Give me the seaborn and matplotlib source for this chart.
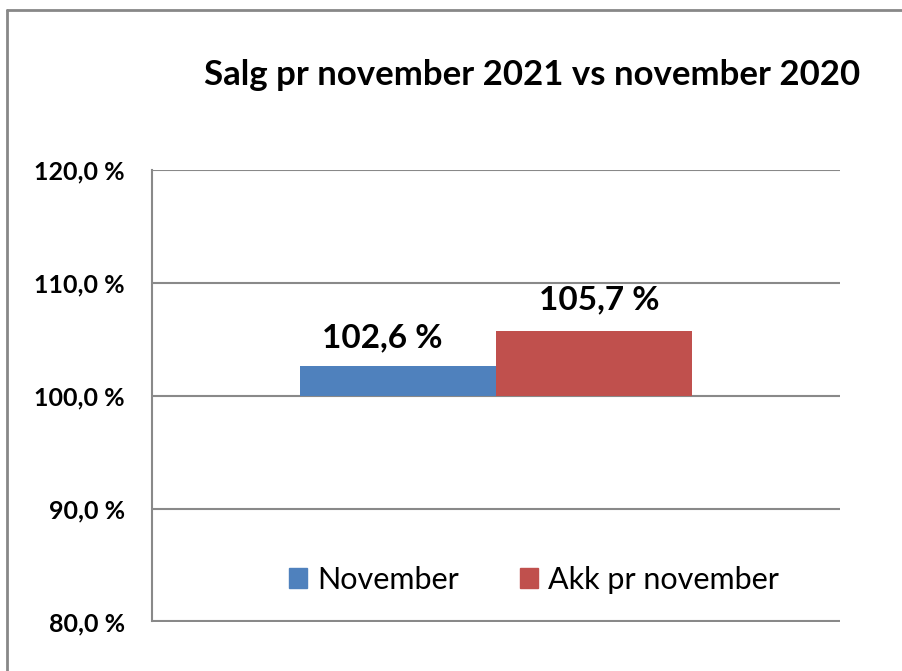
import matplotlib
matplotlib.use("Agg")
import matplotlib.pyplot as plt
import seaborn as sns
import pandas as pd
from matplotlib.lines import Line2D

# Data
categories = ["Salg"]
series = ["November", "Akk pr november"]
values = [102.6, 105.7]
colors = ["#4F81BD", "#C0504D"]
yticks = [80, 90, 100, 110, 120]
title = "Salg pr november 2021 vs november 2020"
baseline = 100.0

sns.set_theme(style="white")
plt.rcParams['font.family'] = ['Lato', 'DejaVu Sans']
plt.rcParams['text.color'] = 'black'
plt.rcParams['ytick.color'] = 'black'

df = pd.DataFrame({
    "cat": categories * len(series),
    "series": series,
    "value": values,
})
df["height"] = df["value"] - baseline

fig = plt.figure(figsize=(9.03, 6.71), dpi=100)
ax = fig.add_axes([152/903, 1-621.5/671, (840-152)/903, (621.5-170)/671])

sns.barplot(data=df, x="cat", y="height", hue="series", palette=colors,
            width=0.571, ax=ax, bottom=baseline, legend=False, saturation=1,
            linewidth=0)

ax.set_xlim(-0.5, 0.5)
ax.set_ylim(80, 120)
ax.set_yticks(yticks)
ax.set_yticklabels([f"{v:.1f}".replace(".", ",") + " %" for v in yticks],
                   fontsize=18, fontweight="bold", color="black")
ax.set_xticks([])
ax.set_xlabel("")
ax.set_ylabel("")
ax.tick_params(axis="y", length=0, pad=19.5)
ax.grid(False)
for y in yticks:
    ax.axhline(y, color="#898989", lw=1.5, zorder=0)
for s in ["top", "right", "bottom"]:
    ax.spines[s].set_visible(False)
ax.spines["left"].set_color("#898989")
ax.spines["left"].set_linewidth(1.5)

# data labels
label_dx = [-11, 3.6]
label_dy = [10, 12]
for patch, v, dx, dy in zip(ax.patches, values, label_dx, label_dy):
    cx = patch.get_x() + patch.get_width() / 2
    top = patch.get_y() + patch.get_height()
    ax.annotate(f"{v:.1f}".replace(".", ",") + " %", (cx, top),
                xytext=(dx, dy), textcoords="offset points",
                ha="center", va="bottom", fontsize=24, fontweight="bold",
                color="black")

# legend
handles = [plt.Rectangle((0, 0), 1, 1, color=c) for c in colors]
leg = ax.legend(handles, series, loc="center", bbox_to_anchor=(0.555, 0.092),
                ncol=2, frameon=False, fontsize=22, handlelength=0.6,
                handleheight=0.6, handletextpad=0.33, columnspacing=2.0)
for t in leg.get_texts():
    t.set_color("black")

fig.text(532/903, 1-75/671, title, ha="center", va="center",
         fontsize=25, fontweight="bold", color="black")

# figure border
fig.add_artist(Line2D([7/903, 7/903], [0, 1-10/671], color="#888888", lw=2,
                      transform=fig.transFigure))
fig.add_artist(Line2D([7/903, 1], [1-10/671, 1-10/671], color="#888888", lw=2,
                      transform=fig.transFigure))

fig.savefig("out.png", dpi=100)
